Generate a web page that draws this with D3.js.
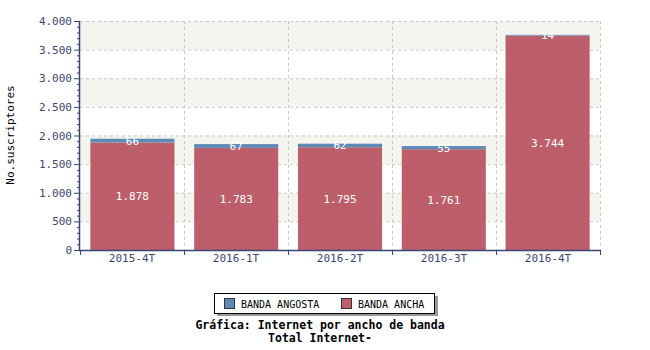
<!DOCTYPE html>
<html>
<head>
<meta charset="utf-8">
<script src="https://cdn.jsdelivr.net/npm/d3@7"></script>
<style>
  body { margin: 0; background: #fff; }
  svg text { font-family: "DejaVu Sans Mono", monospace; }
</style>
</head>
<body>
<div id="chart"></div>
<script>
// Données
var periodos = ["2015-4T", "2016-1T", "2016-2T", "2016-3T", "2016-4T"];
var bandaAncha = [1878, 1783, 1795, 1761, 3744];
var bandaAngosta = [66, 67, 62, 55, 14];
var yTicks = [0, 500, 1000, 1500, 2000, 2500, 3000, 3500, 4000];
var series = ["BANDA ANGOSTA", "BANDA ANCHA"];

var colAncha = "#bd5f6b", colAngosta = "#5e8ab8", axisCol = "#3a4672";
var margin = {top: 21, right: 50, bottom: 100, left: 80},
    width = 650 - margin.left - margin.right,
    height = 350 - margin.top - margin.bottom;

var svg = d3.select("#chart").append("svg")
    .attr("width", 650).attr("height", 350);
var g = svg.append("g")
    .attr("transform", "translate(" + margin.left + "," + margin.top + ")");

var x = d3.scaleBand().domain(periodos).range([0, width]).paddingInner(0.19).paddingOuter(0.1);
var xb = d3.scaleBand().domain(periodos).range([0, width]);
var y = d3.scaleLinear().domain([0, 4000]).range([height, 0]);
var fmt = function (v) { return d3.format(",")(v).replace(/,/g, "."); };

// bandes de fond
for (var i = 0; i < yTicks.length - 1; i++) {
    if (i % 2 == 1) {
        g.append("rect").attr("x", 0).attr("width", width)
            .attr("y", y(yTicks[i + 1])).attr("height", y(yTicks[i]) - y(yTicks[i + 1]))
            .attr("fill", "#f5f5f0");
    }
}
// grille
g.selectAll(".hg").data(yTicks.slice(1)).enter().append("line")
    .attr("x1", 0).attr("x2", width)
    .attr("y1", function (d) { return y(d) + 0.5; }).attr("y2", function (d) { return y(d) + 0.5; })
    .attr("stroke", "#c8c8c8").attr("stroke-dasharray", "3,3");
g.selectAll(".vg").data(periodos).enter().append("line")
    .attr("x1", function (d) { return xb(d) + xb.bandwidth() + 0.5; })
    .attr("x2", function (d) { return xb(d) + xb.bandwidth() + 0.5; })
    .attr("y1", 0).attr("y2", height)
    .attr("stroke", "#c8c8c8").attr("stroke-dasharray", "3,3");

// barres
var bw = x.bandwidth();
periodos.forEach(function (p, i) {
    var a = bandaAncha[i], b = bandaAngosta[i];
    g.append("rect").attr("x", x(p)).attr("width", bw)
        .attr("y", y(a)).attr("height", y(0) - y(a)).attr("fill", colAncha);
    g.append("rect").attr("x", x(p)).attr("width", bw)
        .attr("y", y(a + b)).attr("height", y(a) - y(a + b)).attr("fill", colAngosta);
    g.append("text").attr("x", x(p) + bw / 2).attr("y", (y(a) + y(0)) / 2 + 4)
        .attr("text-anchor", "middle").attr("fill", "#fff").attr("font-size", 11).text(fmt(a));
    g.append("text").attr("x", x(p) + bw / 2).attr("y", (y(a) + y(a + b)) / 2 + 4)
        .attr("text-anchor", "middle").attr("fill", "#fff").attr("font-size", 11).text(fmt(b));
});

// axes
var yMinor = d3.range(0, 4001, 100);
g.selectAll(".ym").data(yMinor).enter().append("line")
    .attr("x1", function (d) { return d % 500 == 0 ? -6 : -3; }).attr("x2", 0)
    .attr("y1", function (d) { return y(d) + 0.5; }).attr("y2", function (d) { return y(d) + 0.5; })
    .attr("stroke", axisCol);
g.append("line").attr("x1", -0.5).attr("x2", -0.5).attr("y1", 0).attr("y2", height + 0.5)
    .attr("stroke", axisCol).attr("stroke-width", 1.5);
g.selectAll(".yl").data(yTicks).enter().append("text")
    .attr("x", -8).attr("y", function (d) { return y(d) + 4; })
    .attr("text-anchor", "end").attr("fill", axisCol).attr("font-size", 11)
    .text(fmt);

g.append("line").attr("x1", -1).attr("x2", width + 0.5).attr("y1", height + 0.5).attr("y2", height + 0.5)
    .attr("stroke", axisCol).attr("stroke-width", 1.5);
g.selectAll(".xt").data([0].concat(periodos.map(function (d) { return xb(d) + xb.bandwidth(); })))
    .enter().append("line")
    .attr("x1", function (d) { return d + 0.5; }).attr("x2", function (d) { return d + 0.5; })
    .attr("y1", height).attr("y2", height + 5).attr("stroke", axisCol);
g.selectAll(".xl").data(periodos).enter().append("text")
    .attr("x", function (d) { return xb(d) + xb.bandwidth() / 2; }).attr("y", height + 12)
    .attr("text-anchor", "middle").attr("fill", axisCol).attr("font-size", 11).text(function (d) { return d; });

svg.append("text").attr("transform", "translate(14,135) rotate(-90)")
    .attr("text-anchor", "middle").attr("font-size", 11).attr("fill", "#000").text("No.suscriptores");

// légende
var lg = svg.append("g").attr("transform", "translate(214,293)");
lg.append("rect").attr("x", 3).attr("y", 3).attr("width", 221).attr("height", 20).attr("fill", "#999");
lg.append("rect").attr("x", 0.5).attr("y", 0.5).attr("width", 220).attr("height", 20)
    .attr("fill", "#fff").attr("stroke", "#000");
var lx = [10, 127];
series.forEach(function (s, i) {
    lg.append("rect").attr("x", lx[i] + 0.5).attr("y", 5.5).attr("width", 10).attr("height", 10)
        .attr("fill", i == 0 ? colAngosta : colAncha).attr("stroke", "#333");
    lg.append("text").attr("x", lx[i] + 17).attr("y", 14.5).attr("font-size", 10).text(s);
});

svg.append("text").attr("x", 320).attr("y", 329).attr("text-anchor", "middle")
    .attr("font-size", 11.5).attr("font-weight", "bold").text("Gráfica: Internet por ancho de banda");
svg.append("text").attr("x", 320).attr("y", 342).attr("text-anchor", "middle")
    .attr("font-size", 11.5).attr("font-weight", "bold").text("Total Internet-");
</script>
</body>
</html>
